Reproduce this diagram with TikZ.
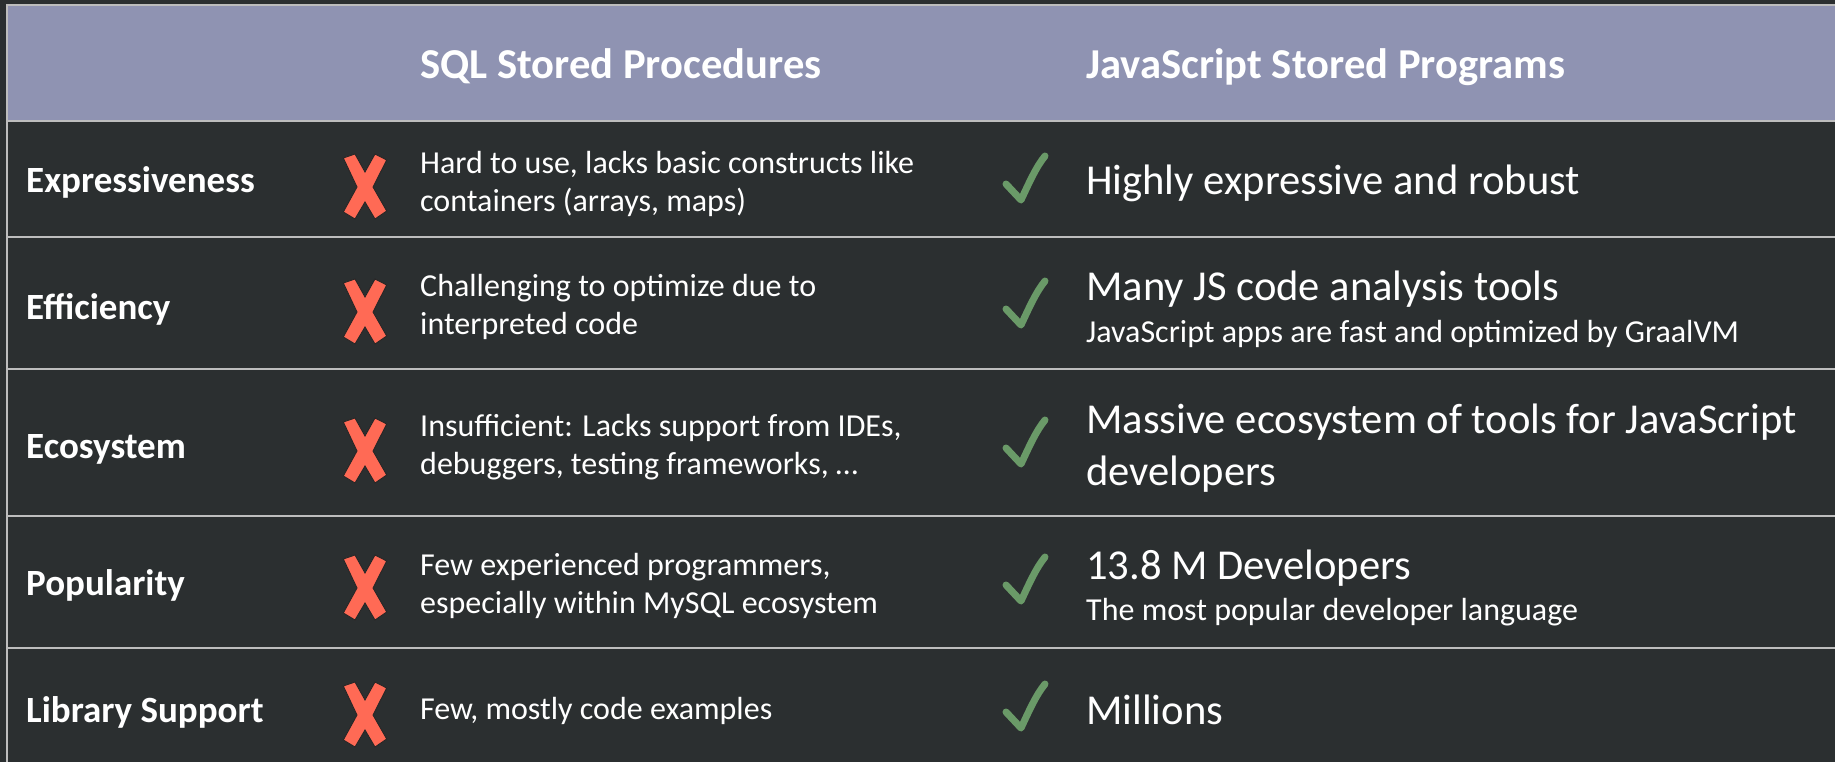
\documentclass[tikz,border=0pt]{standalone}
\usepackage{fontspec}
\setmainfont{Carlito}
\usetikzlibrary{positioning}

\definecolor{slate}{HTML}{2B2F30}
\definecolor{headblue}{HTML}{8F93B2}
\definecolor{rulegrey}{HTML}{BDBDBD}
\definecolor{xred}{HTML}{FF6A55}
\definecolor{tickgreen}{HTML}{6A9A68}

\begin{document}
\begin{tikzpicture}[x=1pt,y=-1pt,
    rowname/.style={anchor=base west,inner sep=0pt,text=white,font=\fontsize{37}{44}\selectfont\bfseries},
    colhead/.style={anchor=base west,inner sep=0pt,text=white,font=\fontsize{42.6}{50}\selectfont\bfseries},
    sqlnote/.style={anchor=west,inner sep=0pt,text=white,align=left,font=\fontsize{32}{37.5}\selectfont},
    jsnote/.style={inner sep=0pt,text=white,align=left,font=\fontsize{42.6}{52}\selectfont},
    jssub/.style={anchor=base west,inner sep=0pt,text=white,font=\fontsize{32}{37}\selectfont},
    gridline/.style={draw=rulegrey,line width=1.4pt},
    redx/.pic={\filldraw[fill=xred,draw=black!85,line width=0.9pt]
      (-21.7,-29) -- (-10,-33) -- (0,-15) -- (10,-33) -- (21.7,-27) -- (8,0)
      -- (21.7,24) -- (10,32) -- (0,15) -- (-10,32) -- (-21.7,25) -- (-8,0) -- cycle;},
    greentick/.pic={\draw[tickgreen,line width=7pt,line cap=round,line join=round]
      (-20,6) -- (-5,22) .. controls (3,5) and (10,-11) .. (19,-22);}]

  \fill[slate] (0,0) rectangle (1835,762);
  \useasboundingbox (0,0) rectangle (1835,762);

  % header band and rules
  \filldraw[fill=headblue,draw=rulegrey,line width=1.2pt] (7,5) rectangle (1845,121);
  \draw[gridline] (7,5) -- (7,770);
  \foreach \y in {237,369,516,648}
    \draw[gridline] (7,\y) -- (1845,\y);

  \node[colhead] (sqlhead) at (420,79) {SQL Stored Procedures};
  \node[colhead] (jshead) at (1086,79) {JavaScript Stored Programs};

  % Expressiveness
  \node[rowname] (expr) at (26,193) {Expressiveness};
  \pic at (365,187) {redx};
  \node[sqlnote] (expr-sql) at (420,184) {Hard to use, lacks basic constructs like\\containers (arrays, maps)};
  \pic at (1026,178) {greentick};
  \node[jsnote,anchor=base west] (expr-js) at (1086,195) {Highly expressive and robust};

  % Efficiency
  \node[rowname] (effi) at (26,319) {Efficiency};
  \pic at (365,312) {redx};
  \node[sqlnote] (effi-sql) at (420,307) {Challenging to optimize due to\\interpreted code};
  \pic at (1026,303) {greentick};
  \node[jsnote,anchor=base west] (effi-js) at (1086,300) {Many JS code analysis tools};
  \node[jssub] (effi-sub) at ([yshift=-42pt]effi-js.base west) {JavaScript apps are fast and optimized by GraalVM};

  % Ecosystem
  \node[rowname] (ecos) at (26,458) {Ecosystem};
  \pic at (365,451) {redx};
  \node[sqlnote] (ecos-sql) at (420,447) {Insufficient: Lacks support from IDEs,\\debuggers, testing frameworks, …};
  \pic at (1026,442) {greentick};
  \node[jsnote,anchor=west] (ecos-js) at (1086,448) {Massive ecosystem of tools for JavaScript\\developers};

  % Popularity
  \node[rowname] (popu) at (26,595) {Popularity};
  \pic at (365,588) {redx};
  \node[sqlnote] (popu-sql) at (420,586) {Few experienced programmers,\\especially within MySQL ecosystem};
  \pic at (1026,579) {greentick};
  \node[jsnote,anchor=base west] (popu-js) at (1086,579) {13.8 M Developers};
  \node[jssub] (popu-sub) at ([yshift=-41pt]popu-js.base west) {The most popular developer language};

  % Library Support
  \node[rowname] (libs) at (26,722) {Library Support};
  \pic at (365,715) {redx};
  \node[sqlnote,anchor=base west] (libs-sql) at (420,719) {Few, mostly code examples};
  \pic at (1026,706) {greentick};
  \node[jsnote,anchor=base west] (libs-js) at (1086,724) {Millions};
\end{tikzpicture}
\end{document}
